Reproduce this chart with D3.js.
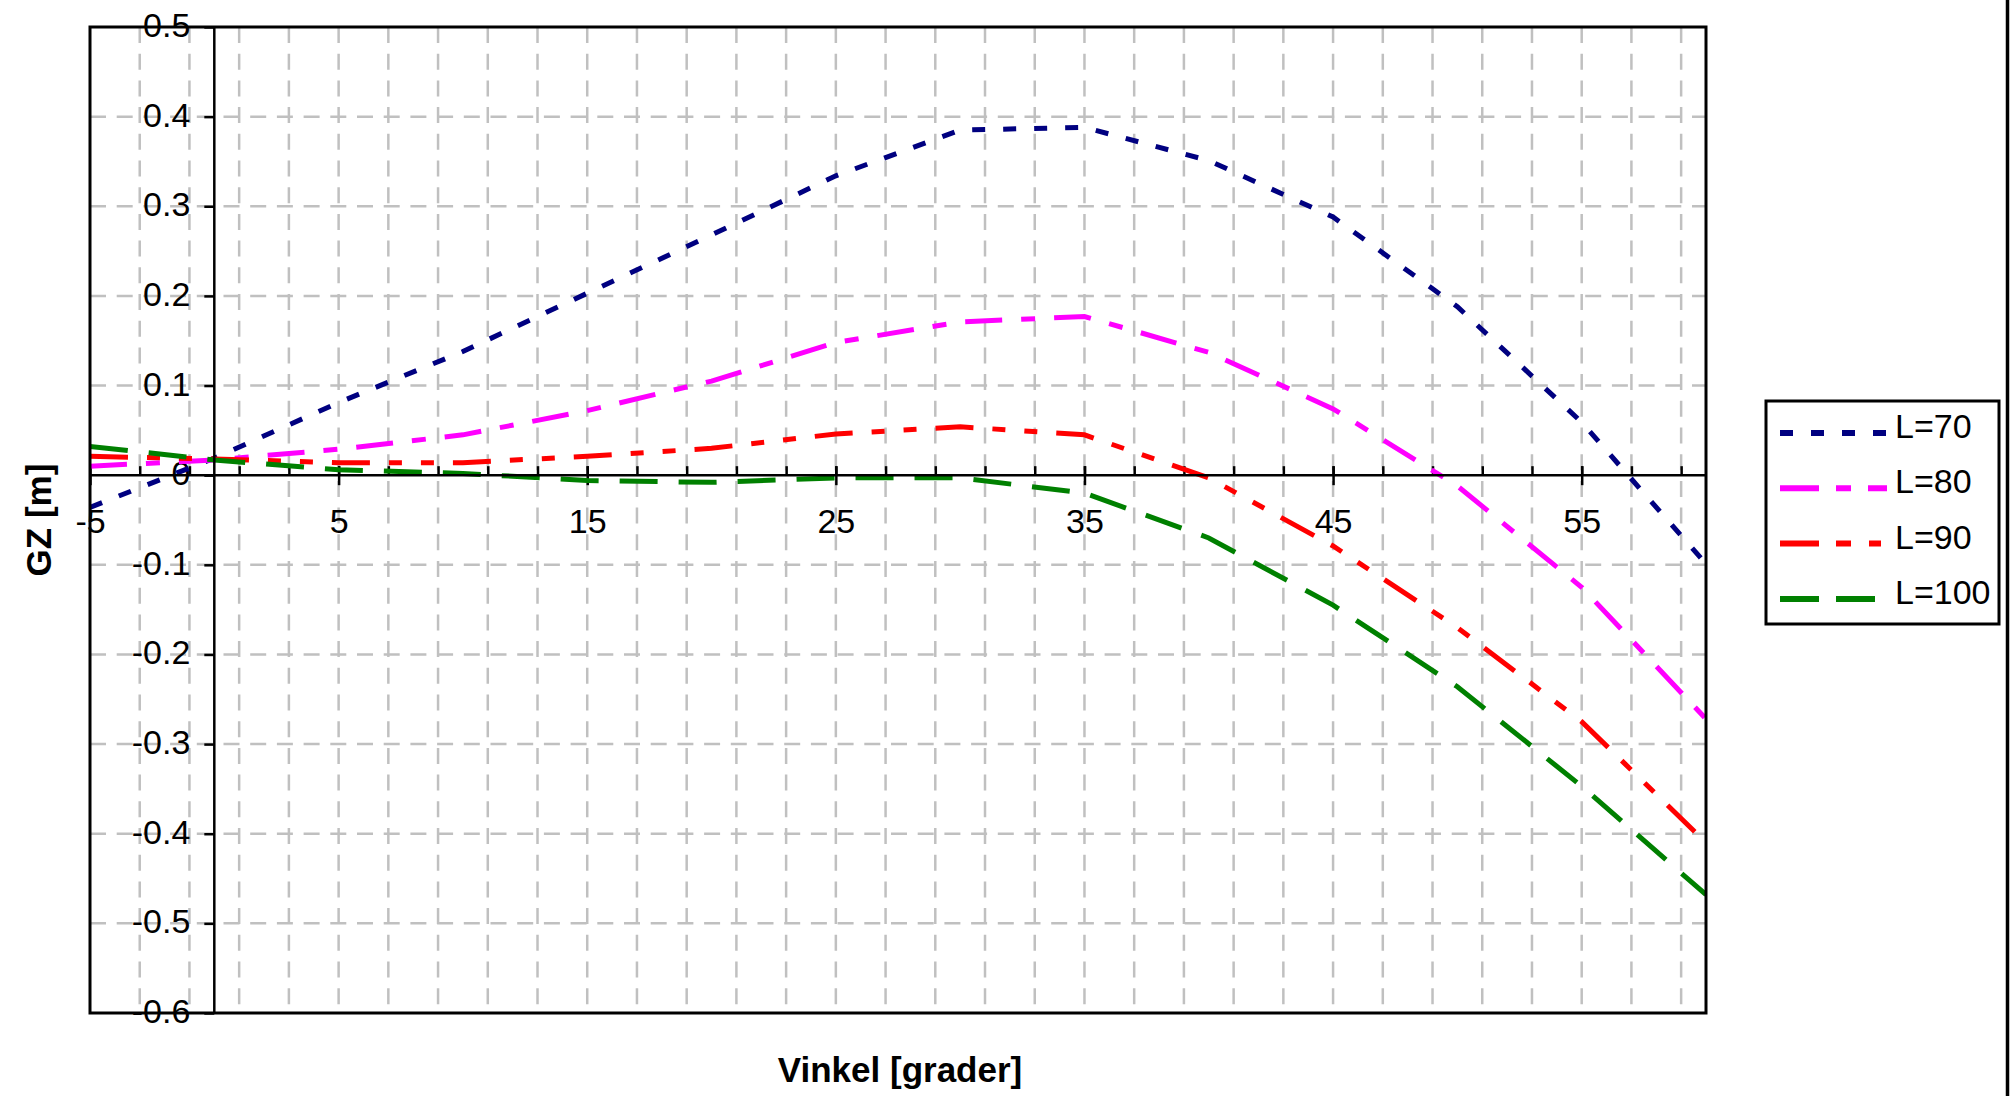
<!DOCTYPE html>
<meta charset="utf-8">
<style>

body {
  margin: 0;
  background: #fff;
}

text {
  font-family: "Liberation Sans", Arial, sans-serif;
  fill: #000;
}

.grid line {
  stroke: #c0c0c0;
  stroke-width: 2.5px;
  stroke-dasharray: 16, 10.7;
}

.axis .domain {
  display: none;
}

.axis line {
  stroke: #000;
  stroke-width: 2.5px;
}

.axis text {
  font-size: 34px;
}

.series {
  fill: none;
  stroke-width: 5px;
  stroke-linecap: butt;
}

</style>
<body>
</body>
<script src="https://cdn.jsdelivr.net/npm/d3@7"></script>
<script>

var angles = [-5, 0, 5, 10, 15, 20, 25, 30, 35, 40, 45, 50, 55, 60];

var gzL70  = [-0.036, 0.019, 0.081, 0.138, 0.203, 0.268, 0.334, 0.385, 0.388, 0.351, 0.288, 0.188, 0.059, -0.099];
var gzL80  = [0.010, 0.017, 0.029, 0.045, 0.072, 0.105, 0.148, 0.171, 0.177, 0.137, 0.074, -0.012, -0.125, -0.272];
var gzL90  = [0.021, 0.018, 0.014, 0.014, 0.021, 0.030, 0.046, 0.054, 0.045, -0.003, -0.079, -0.170, -0.275, -0.410];
var gzL100 = [0.032, 0.017, 0.006, 0.002, -0.006, -0.008, -0.003, -0.003, -0.020, -0.070, -0.145, -0.236, -0.347, -0.468];

var seriesNames = ["L=70", "L=80", "L=90", "L=100"];
var seriesValues = [gzL70, gzL80, gzL90, gzL100];
var seriesColors = ["#000080", "#ff00ff", "#ff0000", "#008000"];
var seriesDash = ["13,18", "37,19,14,19", "38,19,13,19,13,19", "38,21"];
var legendDash = ["13,18", "39,17,15,17", "39,17,15,18,12,17", "39,17"];

var xMajor = [-5, 5, 15, 25, 35, 45, 55];
var xMinor = d3.range(-3, 60, 2);
var yTicks = d3.range(-6, 6).map(function(d) { return d / 10; });

var xTitle = "Vinkel [grader]",
    yTitle = "GZ [m]";

var w = 2015,
    h = 1096;

var x = d3.scaleLinear().domain([-5, 60]).range([90, 1706]),
    y = d3.scaleLinear().domain([-0.6, 0.5]).range([1013, 27]);

var svg = d3.select("body").append("svg")
    .attr("width", w)
    .attr("height", h);

svg.append("defs").append("clipPath")
    .attr("id", "plot")
  .append("rect")
    .attr("x", x(-5))
    .attr("y", y(0.5))
    .attr("width", x(60) - x(-5))
    .attr("height", y(-0.6) - y(0.5));

// grid
var grid = svg.append("g").attr("class", "grid");

grid.selectAll(".vgrid")
    .data(xMinor)
  .enter().append("line")
    .attr("x1", function(d) { return x(d); })
    .attr("x2", function(d) { return x(d); })
    .attr("y1", y(0.5))
    .attr("y2", y(-0.6));

grid.selectAll(".hgrid")
    .data(yTicks.filter(function(d) { return d > -0.6 && d < 0.5 && d !== 0; }))
  .enter().append("line")
    .attr("x1", x(-5))
    .attr("x2", x(60))
    .attr("y1", function(d) { return y(d); })
    .attr("y2", function(d) { return y(d); });

// axes through the origin
var yAxis = d3.axisLeft(y)
    .tickValues(yTicks)
    .tickSize(10)
    .tickPadding(14)
    .tickFormat(function(d) { return Math.abs(d) < 1e-9 ? "0" : d.toFixed(1); });

svg.append("g")
    .attr("class", "axis")
    .attr("transform", "translate(" + x(0) + ",0)")
    .call(yAxis)
    .selectAll("text")
    .attr("dy", "0.28em");

svg.append("g")
    .attr("class", "axis")
    .attr("transform", "translate(0," + y(0) + ")")
    .call(d3.axisTop(x).tickValues(xMinor).tickSize(9).tickFormat(""));

var xAxis = d3.axisBottom(x)
    .tickValues(xMajor)
    .tickSize(10)
    .tickPadding(24)
    .tickFormat(function(d) { return String(d); });

var xg = svg.append("g")
    .attr("class", "axis")
    .attr("transform", "translate(0," + y(0) + ")")
    .call(xAxis);

xg.selectAll(".tick line").attr("y1", -9);

// series
var line = d3.line()
    .x(function(d) { return x(d[0]); })
    .y(function(d) { return y(d[1]); });

svg.append("g")
    .attr("clip-path", "url(#plot)")
  .selectAll("path")
    .data(seriesValues)
  .enter().append("path")
    .attr("class", "series")
    .attr("d", function(vals) { return line(angles.map(function(a, i) { return [a, vals[i]]; })); })
    .style("stroke", function(d, i) { return seriesColors[i]; })
    .style("stroke-dasharray", function(d, i) { return seriesDash[i]; });

// axis lines and frame
svg.append("line")
    .attr("x1", x(0)).attr("x2", x(0))
    .attr("y1", y(0.5)).attr("y2", y(-0.6))
    .style("stroke", "#000").style("stroke-width", 2.5);

svg.append("line")
    .attr("x1", x(-5)).attr("x2", x(60))
    .attr("y1", y(0)).attr("y2", y(0))
    .style("stroke", "#000").style("stroke-width", 2.5);

svg.append("rect")
    .attr("x", x(-5))
    .attr("y", y(0.5))
    .attr("width", x(60) - x(-5))
    .attr("height", y(-0.6) - y(0.5))
    .style("fill", "none")
    .style("stroke", "#000")
    .style("stroke-width", 3);

svg.append("line")
    .attr("x1", 2007.5).attr("x2", 2007.5)
    .attr("y1", 0).attr("y2", h)
    .style("stroke", "#000").style("stroke-width", 3.5);

// titles
svg.append("text")
    .attr("x", (x(-5) + x(60)) / 2 + 2)
    .attr("y", 1082)
    .attr("text-anchor", "middle")
    .style("font-size", "35px")
    .style("font-weight", "bold")
    .text(xTitle);

svg.append("text")
    .attr("transform", "translate(51," + ((y(0.5) + y(-0.6)) / 2) + ") rotate(-90)")
    .attr("text-anchor", "middle")
    .style("font-size", "35px")
    .style("font-weight", "bold")
    .text(yTitle);

// legend
var legend = svg.append("g");

legend.append("rect")
    .attr("x", 1766)
    .attr("y", 401)
    .attr("width", 233)
    .attr("height", 223)
    .style("fill", "#fff")
    .style("stroke", "#000")
    .style("stroke-width", 3);

var item = legend.selectAll(".item")
    .data(seriesNames)
  .enter().append("g")
    .attr("transform", function(d, i) { return "translate(0," + (433 + i * 55.3) + ")"; });

item.append("line")
    .attr("x1", 1780)
    .attr("x2", 1887)
    .style("stroke", function(d, i) { return seriesColors[i]; })
    .style("stroke-width", 6)
    .style("stroke-dasharray", function(d, i) { return legendDash[i]; });

item.append("text")
    .attr("x", 1895)
    .attr("y", 5)
    .style("font-size", "34px")
    .text(function(d) { return d; });

</script>
